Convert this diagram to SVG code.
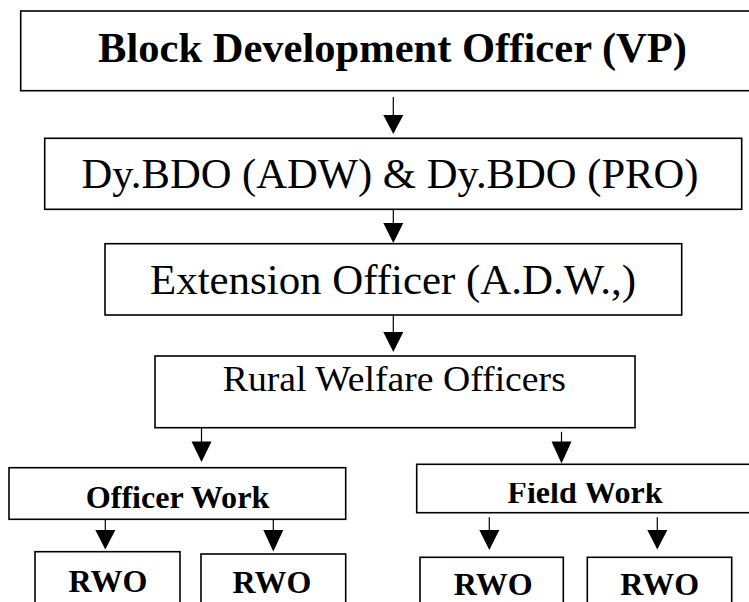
<svg xmlns="http://www.w3.org/2000/svg" width="749" height="602" viewBox="0 0 749 602" font-family="Liberation Serif, Times New Roman, serif">
<style>
.box{fill:#fff;stroke:#000;stroke-width:1.6}
.t{fill:#000;text-anchor:middle}
.b{font-weight:bold}
.ln{stroke:#000;stroke-width:1.2;fill:none}
.ah{fill:#000}
</style>
<defs>
<clipPath id="fwclip"><rect x="417" y="483" width="340" height="40"/></clipPath>
</defs>
<rect width="749" height="602" fill="#fff"/>
<g id="connectors">
<line class="ln" x1="393.3" y1="97" x2="393.3" y2="118"/>
<polygon class="ah" points="383.3,115 403.3,115 393.3,134"/>
<line class="ln" x1="393.3" y1="210" x2="393.3" y2="226"/>
<polygon class="ah" points="383.3,223 403.3,223 393.3,243"/>
<line class="ln" x1="393.3" y1="315" x2="393.3" y2="335"/>
<polygon class="ah" points="383.3,332 403.3,332 393.3,352"/>
<line class="ln" x1="201.5" y1="428" x2="201.5" y2="444"/>
<polygon class="ah" points="191.5,441.5 211.5,441.5 201.5,462"/>
<line class="ln" x1="561.5" y1="431.7" x2="561.5" y2="444"/>
<polygon class="ah" points="551.5,441.5 571.5,441.5 561.5,463.5"/>
<line class="ln" x1="105.3" y1="519" x2="105.3" y2="533"/>
<polygon class="ah" points="95.3,530 115.3,530 105.3,549.5"/>
<line class="ln" x1="273.3" y1="519" x2="273.3" y2="533"/>
<polygon class="ah" points="263.3,530 283.3,530 273.3,551.5"/>
<line class="ln" x1="489.3" y1="517.3" x2="489.3" y2="533"/>
<polygon class="ah" points="479.3,530 499.3,530 489.3,550"/>
<line class="ln" x1="657.3" y1="517.3" x2="657.3" y2="533"/>
<polygon class="ah" points="647.3,530 667.3,530 657.3,549.5"/>
</g>
<g id="bdo">
<rect class="box" x="20.7" y="11" width="735" height="79.7"/>
<text class="t b" x="392.5" y="62" font-size="42.5" textLength="589" lengthAdjust="spacingAndGlyphs">Block Development Officer (VP)</text>
</g>
<g id="dybdo">
<rect class="box" x="44.7" y="138.3" width="697" height="71"/>
<text class="t" x="390" y="188.3" font-size="42" textLength="617" lengthAdjust="spacingAndGlyphs">Dy.BDO (ADW) &amp; Dy.BDO (PRO)</text>
</g>
<g id="extension">
<rect class="box" x="105" y="243.7" width="576.7" height="71.3"/>
<text class="t" x="393" y="294" font-size="42" textLength="486" lengthAdjust="spacingAndGlyphs">Extension Officer (A.D.W.,)</text>
</g>
<g id="rwo-main">
<rect class="box" x="155" y="356" width="480" height="71.7"/>
<text class="t" x="394.3" y="391" font-size="36" textLength="343" lengthAdjust="spacingAndGlyphs">Rural Welfare Officers</text>
</g>
<g id="officer-work">
<rect class="box" x="9" y="467.7" width="336.7" height="51.6"/>
<text class="t b" x="177.5" y="507.7" font-size="32" textLength="183.6" lengthAdjust="spacingAndGlyphs">Officer Work</text>
</g>
<g id="field-work">
<rect class="box" x="416.7" y="464.3" width="340" height="48.4"/>
<text class="t b" x="585" y="503.3" font-size="32" textLength="155.3" lengthAdjust="spacingAndGlyphs" clip-path="url(#fwclip)">Field Work</text>
</g>
<g id="rwo-1">
<rect class="box" x="35" y="551.7" width="145" height="60"/>
<text class="t b" x="108" y="591.7" font-size="32">RWO</text>
</g>
<g id="rwo-2">
<rect class="box" x="201" y="554" width="144.7" height="60"/>
<text class="t b" x="272" y="592.5" font-size="32">RWO</text>
</g>
<g id="rwo-3">
<rect class="box" x="420" y="557.3" width="143.3" height="60"/>
<text class="t b" x="493.3" y="594.5" font-size="32">RWO</text>
</g>
<g id="rwo-4">
<rect class="box" x="587.3" y="557.3" width="144.4" height="60"/>
<text class="t b" x="659.7" y="594.5" font-size="32">RWO</text>
</g>
</svg>
